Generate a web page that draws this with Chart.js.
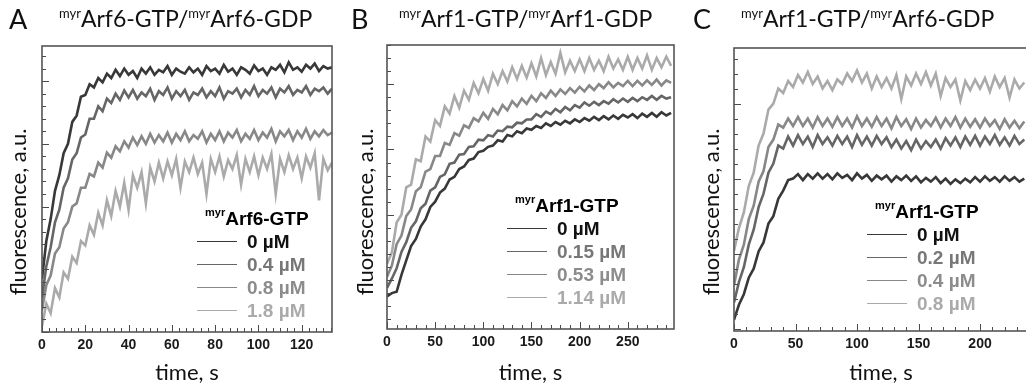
<!DOCTYPE html>
<html>
<head>
<meta charset="utf-8">
<script src="https://cdn.jsdelivr.net/npm/chart.js@4.4.0/dist/chart.umd.min.js"></script>
<style>
  body { margin: 0; background: #fff; }
  #wrap { position: relative; width: 1026px; height: 390px; overflow: hidden; background: #fff; }
  .cv { position: absolute; top: 0; height: 390px; }
  .letter { position: absolute; font-family: Lato, sans-serif; font-size: 27px; color: #111; line-height: 1; }
  .ttl { position: absolute; font-family: Lato, sans-serif; font-size: 23px; color: #111; line-height: 1; white-space: nowrap; }
  .ttl sup { font-size: 13px; vertical-align: 9px; }
  .ytl { position: absolute; width: 240px; text-align: center; font-family: Lato, sans-serif; font-size: 22px; color: #111;
         line-height: 26px; transform: rotate(-90deg); transform-origin: center; white-space: nowrap; }
  .leg { position: absolute; font-family: "Liberation Sans", Arial, sans-serif; font-weight: bold; font-size: 19px; white-space: nowrap; }
  .leg .hd sup { font-size: 11px; vertical-align: 9px; }
  .leg .row { position: relative; height: 23px; }
  .leg .ln { position: absolute; top: 11px; height: 0; border-top: 1.5px solid #888; }
  .leg .tx { position: absolute; top: 1px; }
</style>
</head>
<body>
<div id="wrap">
  <canvas id="cA" class="cv" style="left:0;width:342px"></canvas>
  <canvas id="cB" class="cv" style="left:342px;width:342px"></canvas>
  <canvas id="cC" class="cv" style="left:684px;width:350px"></canvas>

  <div class="letter" style="left:9px;top:5px">A</div>
  <div class="ttl" style="left:59px;top:7px"><sup>myr</sup>Arf6-GTP/<sup>myr</sup>Arf6-GDP</div>
  <div class="letter" style="left:351px;top:5px">B</div>
  <div class="ttl" style="left:399px;top:7px"><sup>myr</sup>Arf1-GTP/<sup>myr</sup>Arf1-GDP</div>
  <div class="letter" style="left:693px;top:5px">C</div>
  <div class="ttl" style="left:741px;top:7px"><sup>myr</sup>Arf1-GTP/<sup>myr</sup>Arf6-GDP</div>

  <div class="ytl" style="left:-102px;top:199px">fluorescence, a.u.</div>
  <div class="ytl" style="left:245px;top:199px">fluorescence, a.u.</div>
  <div class="ytl" style="left:591px;top:199px">fluorescence, a.u.</div>

  <div id="legA" class="leg" style="left:197px;top:206px"></div>
  <div id="legB" class="leg" style="left:507px;top:193px"></div>
  <div id="legC" class="leg" style="left:867px;top:199px"></div>
</div>
<script>
// time step between samples, s
const stepA = 2, stepB = 5, stepC = 4;

// panel A: myrArf6-GTP / myrArf6-GDP
const concA = ['0 µM', '0.4 µM', '0.8 µM', '1.8 µM'];
const A_0 = [0.85,1.45,1.8,2.25,2.5,2.85,3.0,3.35,3.45,3.75,
  3.78,3.95,3.9,4.05,3.98,4.12,4.05,4.18,4.08,4.2,
  4.1,4.16,4.05,4.2,4.12,4.22,4.1,4.18,4.14,4.24,
  4.1,4.2,4.15,4.12,4.22,4.14,4.2,4.1,4.24,4.16,
  4.2,4.12,4.26,4.15,4.2,4.1,4.22,4.18,4.12,4.25,
  4.16,4.2,4.1,4.22,4.18,4.26,4.14,4.3,4.18,4.22,
  4.15,4.26,4.2,4.28,4.16,4.24,4.2,4.22];
const A_04 = [0.55,1.05,1.35,1.75,1.95,2.3,2.45,2.75,2.85,3.1,
  3.15,3.4,3.4,3.6,3.52,3.72,3.65,3.8,3.7,3.85,
  3.74,3.86,3.72,3.82,3.76,3.88,3.7,3.84,3.78,3.9,
  3.72,3.84,3.76,3.86,3.7,3.82,3.78,3.88,3.74,3.84,
  3.76,3.9,3.72,3.84,3.8,3.88,3.74,3.86,3.78,3.92,
  3.76,3.86,3.8,3.9,3.74,3.88,3.82,3.92,3.78,3.86,
  3.82,3.92,3.78,3.88,3.84,3.9,3.8,3.88];
const A_08 = [0.35,0.75,0.9,1.25,1.35,1.65,1.75,2.0,2.05,2.3,
  2.3,2.52,2.48,2.7,2.62,2.86,2.78,2.96,2.88,3.04,
  2.94,3.1,2.98,3.12,3.0,3.16,3.02,3.14,3.04,3.18,
  3.02,3.16,3.06,3.2,3.04,3.14,3.08,3.2,3.02,3.16,
  3.06,3.2,3.04,3.18,3.1,3.22,3.04,3.16,3.08,3.22,
  3.06,3.18,3.1,3.24,3.04,3.2,3.12,3.22,3.06,3.2,
  3.1,3.24,3.08,3.2,3.12,3.22,3.14,3.18];
const A_18 = [0.1,0.45,0.3,0.7,0.55,0.95,0.85,1.2,1.1,1.45,
  1.38,1.7,1.55,1.9,1.7,2.1,1.85,2.25,2.0,2.38,
  1.95,2.5,2.3,2.55,2.05,2.62,2.4,2.7,2.45,2.72,
  2.5,2.76,2.3,2.72,2.55,2.78,2.52,2.7,2.2,2.76,
  2.55,2.8,2.48,2.74,2.6,2.82,2.35,2.76,2.55,2.8,
  2.5,2.78,2.6,2.84,2.2,2.76,2.55,2.82,2.6,2.78,
  2.45,2.8,2.62,2.85,2.1,2.76,2.58,2.7];

// panel B: myrArf1-GTP / myrArf1-GDP
const concB = ['0 µM', '0.15 µM', '0.53 µM', '1.14 µM'];
const B_0 = [-0.25,-0.2,-0.18,0.08,0.3,0.52,0.63,0.82,0.93,1.12,
  1.2,1.34,1.4,1.54,1.58,1.7,1.74,1.84,1.86,1.96,
  1.98,2.04,2.06,2.14,2.12,2.22,2.2,2.28,2.25,2.32,
  2.3,2.36,2.33,2.4,2.36,2.42,2.38,2.44,2.4,2.46,
  2.42,2.48,2.44,2.5,2.45,2.51,2.46,2.52,2.47,2.53,
  2.49,2.54,2.48,2.55,2.5,2.56,2.5,2.57,2.52,2.56];
const B_015 = [-0.12,0.02,0.18,0.43,0.58,0.8,0.9,1.1,1.17,1.37,
  1.42,1.58,1.62,1.78,1.8,1.92,1.93,2.04,2.05,2.15,
  2.14,2.22,2.2,2.29,2.28,2.35,2.34,2.41,2.4,2.46,
  2.46,2.54,2.5,2.58,2.54,2.62,2.57,2.65,2.6,2.68,
  2.64,2.72,2.67,2.73,2.68,2.74,2.7,2.77,2.72,2.78,
  2.73,2.79,2.74,2.8,2.76,2.82,2.76,2.82,2.78,2.8];
const B_053 = [0.05,0.22,0.55,0.68,0.98,1.08,1.36,1.42,1.66,1.7,
  1.9,1.9,2.1,2.07,2.25,2.21,2.37,2.33,2.48,2.43,
  2.56,2.47,2.62,2.54,2.68,2.6,2.74,2.66,2.78,2.7,
  2.82,2.74,2.86,2.79,2.9,2.82,2.92,2.85,2.94,2.87,
  2.96,2.89,2.98,2.91,3.0,2.94,3.03,2.95,3.02,2.97,
  3.05,2.97,3.05,2.98,3.06,2.99,3.07,2.98,3.06,3.02];
const B_114 = [0.25,0.42,0.88,1.0,1.42,1.46,1.85,1.82,2.2,2.12,
  2.45,2.36,2.66,2.55,2.82,2.64,2.9,2.76,3.02,2.86,
  3.08,2.9,3.16,3.0,3.2,3.04,3.26,3.08,3.28,3.1,
  3.32,3.12,3.4,3.14,3.34,3.16,3.48,3.18,3.36,3.2,
  3.38,3.2,3.4,3.22,3.36,3.2,3.42,3.24,3.38,3.22,
  3.42,3.22,3.4,3.24,3.44,3.22,3.4,3.26,3.42,3.28];

// panel C: myrArf1-GTP / myrArf6-GDP
const concC = ['0 µM', '0.2 µM', '0.4 µM', '0.8 µM'];
const C_0 = [0.12,0.32,0.46,0.68,0.8,1.03,1.15,1.4,1.5,1.73,
  1.84,1.98,2.0,2.06,1.98,2.06,2.0,2.07,2.0,2.06,
  1.99,2.07,2.01,2.05,1.98,2.07,2.0,2.05,1.97,2.04,
  1.99,2.04,1.96,2.03,1.98,2.04,1.97,2.03,1.95,2.01,
  1.96,2.02,1.94,2.0,1.93,1.99,1.94,2.0,1.95,2.02,
  1.96,2.03,1.97,2.02,1.96,2.03,1.97,2.02,1.96,2.0];
const C_02 = [0.35,0.62,0.82,1.12,1.32,1.62,1.8,2.08,2.2,2.44,
  2.4,2.56,2.44,2.58,2.46,2.56,2.42,2.58,2.46,2.55,
  2.44,2.57,2.46,2.56,2.42,2.58,2.45,2.56,2.44,2.57,
  2.46,2.55,2.42,2.52,2.4,2.5,2.38,2.52,2.4,2.5,
  2.42,2.52,2.4,2.54,2.44,2.55,2.42,2.56,2.45,2.57,
  2.44,2.56,2.46,2.58,2.45,2.55,2.44,2.57,2.46,2.52];
const C_04 = [0.58,0.92,1.12,1.46,1.64,1.96,2.1,2.42,2.52,2.72,
  2.68,2.8,2.7,2.82,2.7,2.8,2.68,2.82,2.7,2.8,
  2.69,2.82,2.7,2.8,2.68,2.83,2.7,2.8,2.69,2.82,
  2.7,2.8,2.67,2.82,2.7,2.79,2.66,2.8,2.68,2.78,
  2.7,2.81,2.68,2.8,2.7,2.82,2.68,2.8,2.69,2.79,
  2.68,2.8,2.7,2.78,2.66,2.79,2.68,2.77,2.67,2.76];
const C_08 = [1.04,1.34,1.55,1.9,2.08,2.44,2.6,2.92,3.0,3.2,
  3.14,3.3,3.22,3.38,3.28,3.42,3.26,3.36,3.2,3.3,
  3.18,3.32,3.26,3.4,3.3,3.44,3.28,3.4,3.2,3.36,
  3.22,3.34,3.2,3.38,3.06,3.36,3.24,3.4,3.26,3.42,
  3.24,3.4,3.1,3.34,3.22,3.32,3.04,3.3,3.18,3.32,
  3.2,3.34,3.16,3.36,3.22,3.34,3.08,3.32,3.2,3.28];

const lineColors = ['#383838', '#666666', '#888888', '#aaaaaa'];
const textColors = ['#111111', '#777777', '#8c8c8c', '#aaaaaa'];

function pts(vals, step) {
  return vals.map((v, i) => ({x: i * step, y: v}));
}

// frame + inward minor/major ticks
const framePlugin = {
  id: 'frame',
  afterDraw(chart, args, opts) {
    const ctx = chart.ctx, a = chart.chartArea;
    ctx.save();
    ctx.strokeStyle = '#4a4a4a';
    ctx.lineWidth = 1;
    const xs = chart.scales.x, ys = chart.scales.y;
    xs.ticks.forEach(t => {
      const px = Math.round(xs.getPixelForValue(t.value)) + 0.5;
      const maj = Math.abs(t.value / opts.xMajor - Math.round(t.value / opts.xMajor)) < 1e-6;
      ctx.beginPath(); ctx.moveTo(px, a.bottom); ctx.lineTo(px, a.bottom - (maj ? 7 : 4)); ctx.stroke();
    });
    ys.ticks.forEach(t => {
      const py = Math.round(ys.getPixelForValue(t.value)) + 0.5;
      const maj = Math.abs(t.value - Math.round(t.value)) < 1e-6;
      ctx.beginPath(); ctx.moveTo(a.left, py); ctx.lineTo(a.left + (maj ? 7 : 4), py); ctx.stroke();
    });
    ctx.lineWidth = 1.6;
    ctx.strokeStyle = '#555';
    ctx.strokeRect(a.left, a.top, a.right - a.left, a.bottom - a.top);
    ctx.restore();
  }
};

function makePanel(id, series, step, cfg) {
  const datasets = series.map((vals, i) => ({
    data: pts(vals, step),
    borderColor: lineColors[i],
    borderWidth: 2.6,
    pointRadius: 0,
    tension: 0
  }));
  return new Chart(document.getElementById(id), {
    type: 'line',
    data: { datasets },
    options: {
      responsive: false,
      animation: false,
      layout: { padding: cfg.pad },
      plugins: { legend: { display: false }, tooltip: { enabled: false }, frame: { xMajor: cfg.xMajor } },
      scales: {
        x: {
          type: 'linear', min: 0, max: cfg.xMax,
          grid: { display: false, drawTicks: false },
          border: { display: false },
          ticks: {
            stepSize: cfg.xStep, autoSkip: false, maxRotation: 0, includeBounds: false, padding: 5,
            color: '#1a1a1a', font: { family: '"Liberation Sans", Arial, sans-serif', weight: 'bold', size: 14 },
            callback: v => Math.abs(v / cfg.xMajor - Math.round(v / cfg.xMajor)) < 1e-6 ? String(Math.round(v)) : ''
          },
          title: { display: true, text: 'time, s', color: '#111', font: { family: 'Lato', size: 22 }, padding: { top: 0, bottom: 4 } },
          afterFit: s => { s.height = cfg.xH; }
        },
        y: {
          type: 'linear', min: cfg.yMin, max: cfg.yMax,
          grid: { display: false, drawTicks: false },
          border: { display: false },
          ticks: { display: false, stepSize: 0.2, includeBounds: false },
          afterFit: s => { s.width = 0; }
        }
      }
    },
    plugins: [framePlugin]
  });
}

function setSize(id, w) {
  const c = document.getElementById(id);
  c.width = w; c.height = 390;
}
setSize('cA', 342); setSize('cB', 342); setSize('cC', 350);

makePanel('cA', [A_0, A_04, A_08, A_18], stepA,
  { pad: { left: 42, top: 46, right: 10, bottom: 0 }, xH: 58, xMax: 134, xStep: 10 / 3, xMajor: 20, yMin: 0, yMax: 4.56 });
makePanel('cB', [B_0, B_015, B_053, B_114], stepB,
  { pad: { left: 45, top: 45, right: 10, bottom: 0 }, xH: 61, xMax: 298, xStep: 10, xMajor: 50, yMin: -0.75, yMax: 3.6 });
makePanel('cC', [C_0, C_02, C_04, C_08], stepC,
  { pad: { left: 50, top: 48, right: 6, bottom: 0 }, xH: 59, xMax: 239, xStep: 10, xMajor: 50, yMin: -0.03, yMax: 3.74 });

function legend(id, gtp, concs) {
  const el = document.getElementById(id);
  let h = '<div class="hd" style="margin-left:8px;height:24px"><sup>myr</sup>' + gtp + '</div>';
  concs.forEach((c, i) => {
    h += '<div class="row"><div class="ln" style="left:0;width:40px;border-color:' + lineColors[i] + '"></div>' +
         '<div class="tx" style="left:50px;color:' + textColors[i] + '">' + c + '</div></div>';
  });
  el.innerHTML = h;
}
legend('legA', 'Arf6-GTP', concA);
legend('legB', 'Arf1-GTP', concB);
legend('legC', 'Arf1-GTP', concC);
</script>
</body>
</html>
